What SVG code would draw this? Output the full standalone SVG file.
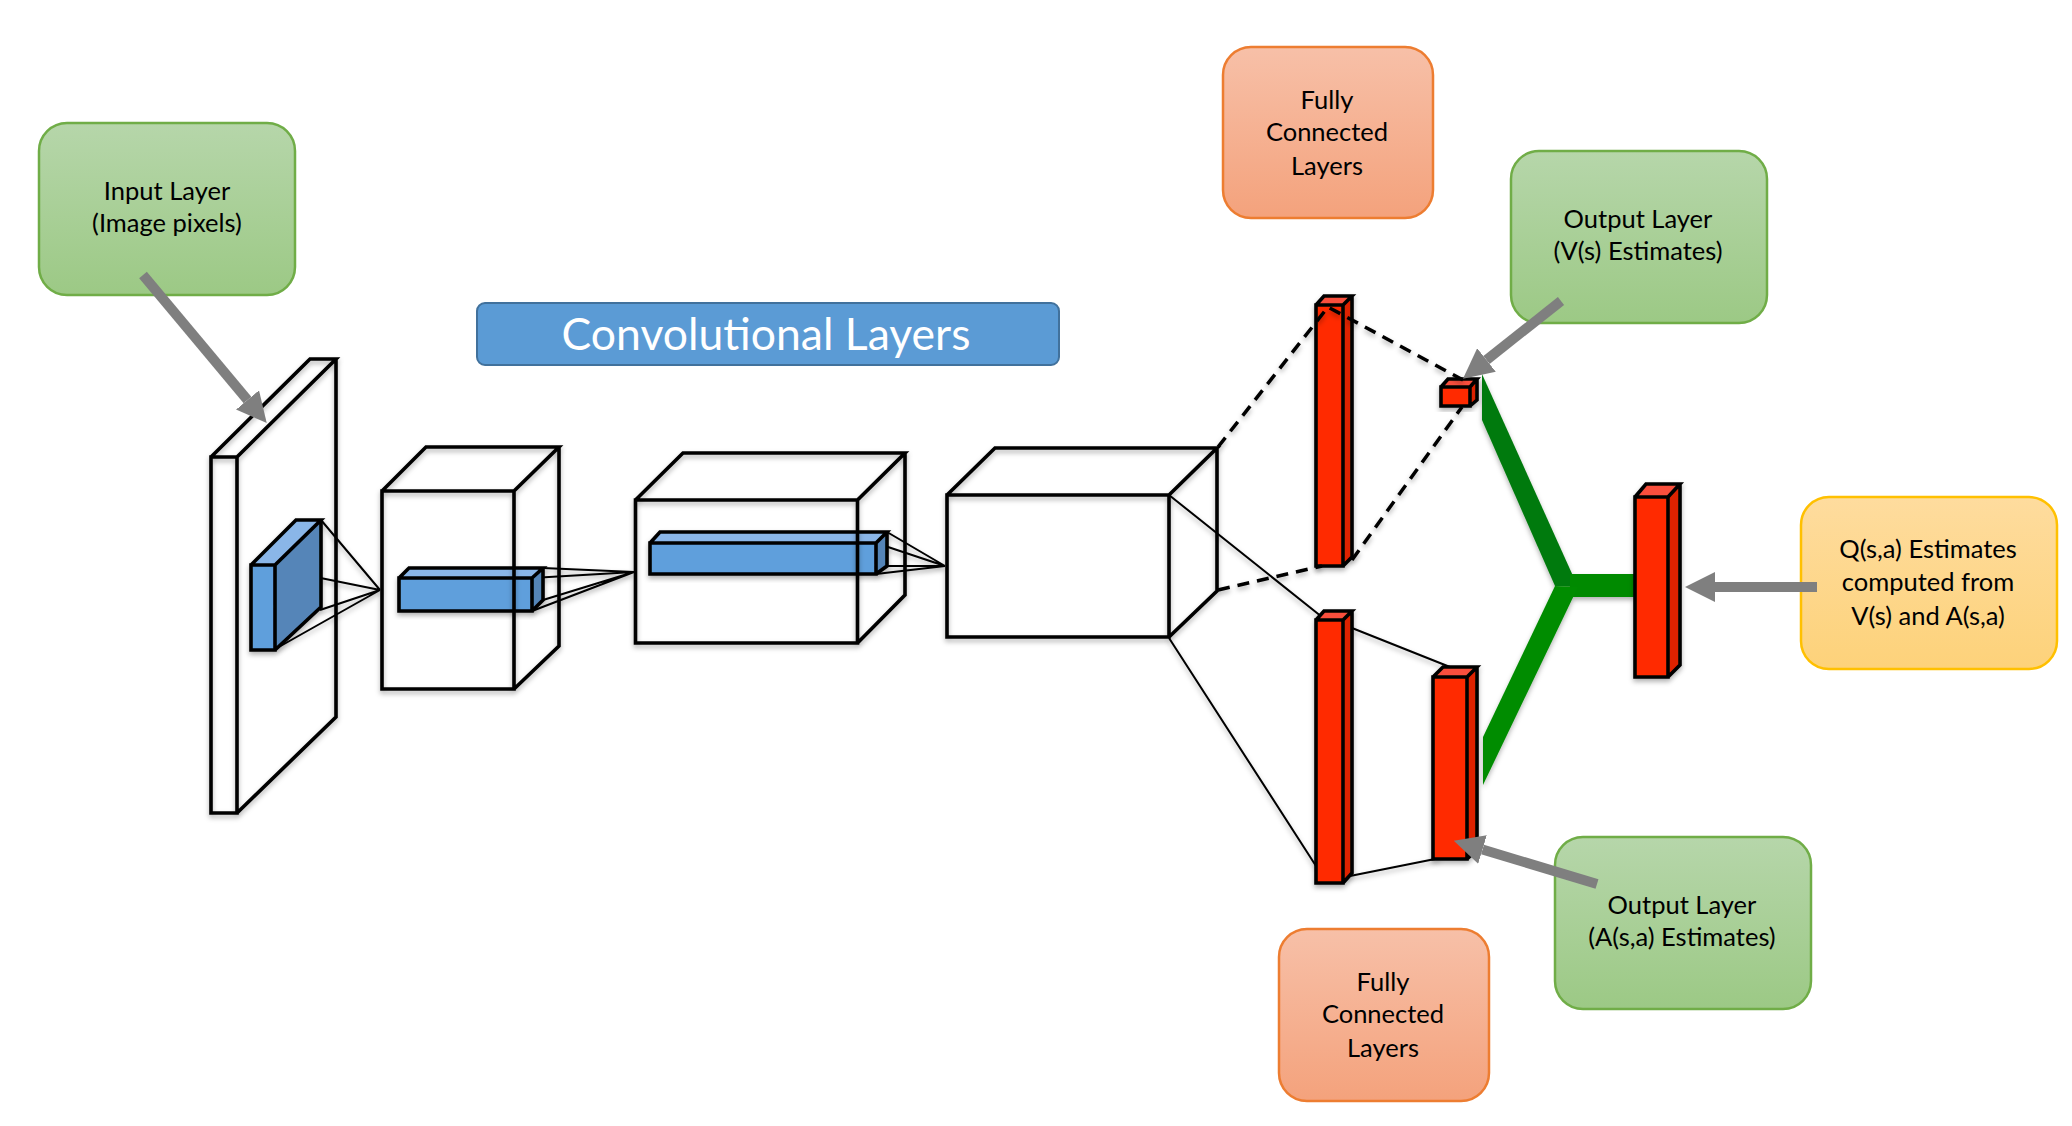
<svg xmlns="http://www.w3.org/2000/svg" width="2072" height="1126" viewBox="0 0 2072 1126">
<style>
text{font-family:Lato,"Liberation Sans",sans-serif;font-size:25.500px;fill:#000;text-anchor:middle}
.title{font-size:44.500px;fill:#fff}
.callout{stroke-width:2.500}
.green{fill:url(#gGreen);stroke:#70ad47}
.orange{fill:url(#gOrange);stroke:#ed7d31}
.yellow{fill:url(#gYellow);stroke:#ffc000}
.wire{fill:none;stroke:#000;stroke-width:3.600;stroke-linejoin:miter}
.thin{fill:none;stroke:#000;stroke-width:2}
.dash{fill:none;stroke:#000;stroke-width:3.500;stroke-dasharray:12 8}
.edge{stroke:#000;stroke-width:3.600;stroke-linejoin:miter}
.arrow{stroke:#7f7f7f;stroke-width:10;marker-end:url(#head)}
.bf{fill:#5f9fdc}.bt{fill:#8ab6e8}.br{fill:#5585b8}
.rf{fill:#ff2a00}.rt{fill:#f9503c}.rr{fill:#de2400}
</style>
<defs>
<linearGradient id="gGreen" x1="0" y1="0" x2="0" y2="1"><stop offset="0" stop-color="#b6d6aa"/><stop offset="1" stop-color="#9cc985"/></linearGradient>
<linearGradient id="gOrange" x1="0" y1="0" x2="0" y2="1"><stop offset="0" stop-color="#f7c0a8"/><stop offset="1" stop-color="#f4a27c"/></linearGradient>
<linearGradient id="gYellow" x1="0" y1="0" x2="0" y2="1"><stop offset="0" stop-color="#fedc9e"/><stop offset="1" stop-color="#fdd27a"/></linearGradient>
<filter id="sh" x="-20%" y="-20%" width="140%" height="140%"><feDropShadow dx="0" dy="3" stdDeviation="2.500" flood-color="#000" flood-opacity="0.3"/></filter>
<marker id="head" markerUnits="userSpaceOnUse" markerWidth="30" markerHeight="30" refX="0" refY="15" orient="auto"><path d="M0,0L30,15L0,30Z" fill="#7f7f7f"/></marker>
</defs>

<g id="callouts">
<g id="input-layer-label"><rect class="callout green" x="39" y="123" width="256" height="172" rx="28"/><text x="167" y="200">Input Layer</text><text x="167" y="232">(Image pixels)</text></g>
<g id="conv-label"><rect x="477" y="303" width="582" height="62" rx="8" fill="#5b9bd5" stroke="#41719c" stroke-width="2"/><text class="title" x="766" y="350">Convolutional Layers</text></g>
<g id="fc-top-label"><rect class="callout orange" x="1223" y="47" width="210" height="171" rx="28"/><text x="1327" y="109">Fully</text><text x="1327" y="141">Connected</text><text x="1327" y="175">Layers</text></g>
<g id="output-v-label"><rect class="callout green" x="1511" y="151" width="256" height="172" rx="28"/><text x="1638" y="228">Output Layer</text><text x="1638" y="260">(V(s) Estimates)</text></g>
<g id="q-label"><rect class="callout yellow" x="1801" y="497" width="256" height="172" rx="28"/><text x="1928" y="558">Q(s,a) Estimates</text><text x="1928" y="591">computed from</text><text x="1928" y="625">V(s) and A(s,a)</text></g>
<g id="output-a-label"><rect class="callout green" x="1555" y="837" width="256" height="172" rx="28"/><text x="1682" y="914">Output Layer</text><text x="1682" y="946">(A(s,a) Estimates)</text></g>
<g id="fc-bottom-label"><rect class="callout orange" x="1279" y="929" width="210" height="172" rx="28"/><text x="1383" y="991">Fully</text><text x="1383" y="1023">Connected</text><text x="1383" y="1057">Layers</text></g>
</g>

<g id="merge" filter="url(#sh)">
<polygon points="1482,374 1578,587 1555,586 1482,420" fill="#067a0c"/>
<rect x="1570" y="574" width="65" height="23" fill="#008a00"/>
<polygon points="1555,586 1578,587 1483,785 1483,737" fill="#058c03"/>
</g>

<g id="connectors">
<g filter="url(#sh)">
<path class="thin" d="M321,520L380,590M271,568L380,590M320,610L380,590M277,648L380,590"/>
<path class="thin" d="M543,568L634,572M532,578L634,572M543,600L634,572M532,611L634,572"/>
<path class="thin" d="M887,532L945,566M876,543L945,566M887,566L945,566M876,574L945,566"/>
<path class="thin" d="M1169,495L1322,617M1169,638L1316,866M1352,628L1450,667M1345,877L1440,858"/>
</g>
</g>

<g id="input-slab" filter="url(#sh)">
<path class="wire" d="M211,457H237V813H211ZM211,457L310,359H336L237,457M336,359V717L237,813"/>
</g>
<g id="kernel-1" filter="url(#sh)">
<polygon class="bf" points="251,565 275,565 275,650 251,650"/><polygon class="bt" points="251,565 296,520 321,520 275,565"/><polygon class="br" points="275,565 321,520 321,607 275,650"/>
<path class="edge" fill="none" d="M251,565H275V650H251ZM251,565L296,520H321L275,565M321,520V607L275,650"/>
</g>
<g id="kernel-2" filter="url(#sh)">
<polygon class="bf" points="399,578 532,578 532,611 399,611"/><polygon class="bt" points="399,578 409,568 543,568 532,578"/><polygon class="br" points="532,578 543,568 543,600 532,611"/>
<path class="edge" fill="none" d="M399,578H532V611H399ZM399,578L409,568H543L532,578M543,568V600L532,611"/>
</g>
<g id="volume-2" filter="url(#sh)">
<path class="wire" d="M382,491H514V689H382ZM382,491L426,447H559L514,491M559,447V646L514,689"/>
</g>
<g id="kernel-3" filter="url(#sh)">
<polygon class="bf" points="650,543 876,543 876,574 650,574"/><polygon class="bt" points="650,543 660,532 887,532 876,543"/><polygon class="br" points="876,543 887,532 887,566 876,574"/>
<path class="edge" fill="none" d="M650,543H876V574H650ZM650,543L660,532H887L876,543M887,532V566L876,574"/>
</g>
<g id="volume-3" filter="url(#sh)">
<path class="wire" d="M635.500,500H857.500V643H635.500ZM635.500,500L683,453H905L857.500,500M905,453V595L857.500,643"/>
</g>
<g id="volume-4" filter="url(#sh)">
<path class="wire" d="M947,495H1169V637H947ZM947,495L995,448H1217L1169,495M1217,448V591L1169,637"/>
</g>

<g id="fc-v-1" filter="url(#sh)">
<polygon class="rf" points="1316,305 1343,305 1343,566 1316,566"/><polygon class="rt" points="1316,305 1324,296 1352,296 1343,305"/><polygon class="rr" points="1343,305 1352,296 1352,557 1343,566"/>
<path class="edge" fill="none" d="M1316,305H1343V566H1316ZM1316,305L1324,296H1352L1343,305M1352,296V557L1343,566"/>
</g>
<g id="fc-v-2" filter="url(#sh)">
<polygon class="rf" points="1441,387 1470,387 1470,406 1441,406"/><polygon class="rt" points="1441,387 1448,379 1477,379 1470,387"/><polygon class="rr" points="1470,387 1477,379 1477,400 1470,406"/>
<path class="edge" fill="none" d="M1441,387H1470V406H1441ZM1441,387L1448,379H1477L1470,387M1477,379V400L1470,406"/>
</g>
<g id="fc-a-1" filter="url(#sh)">
<polygon class="rf" points="1316,620 1343,620 1343,883 1316,883"/><polygon class="rt" points="1316,620 1324,611 1352,611 1343,620"/><polygon class="rr" points="1343,620 1352,611 1352,873 1343,883"/>
<path class="edge" fill="none" d="M1316,620H1343V883H1316ZM1316,620L1324,611H1352L1343,620M1352,611V873L1343,883"/>
</g>
<g id="fc-a-2" filter="url(#sh)">
<polygon class="rf" points="1433,677 1467,677 1467,859 1433,859"/><polygon class="rt" points="1433,677 1443,667 1477,667 1467,677"/><polygon class="rr" points="1467,677 1477,667 1477,850 1467,859"/>
<path class="edge" fill="none" d="M1433,677H1467V859H1433ZM1433,677L1443,667H1477L1467,677M1477,667V850L1467,859"/>
</g>
<g id="q-output" filter="url(#sh)">
<polygon class="rf" points="1635,497 1668,497 1668,677 1635,677"/><polygon class="rt" points="1635,497 1646,484 1680,484 1668,497"/><polygon class="rr" points="1668,497 1680,484 1680,665 1668,677"/>
<path class="edge" fill="none" d="M1635,497H1668V677H1635ZM1635,497L1646,484H1680L1668,497M1680,484V665L1668,677"/>
</g>

<g id="dashed-connectors" filter="url(#sh)">
<path class="dash" d="M1218,447L1328,307L1463,380"/>
<path class="dash" d="M1218,590L1322,566"/>
<path class="dash" d="M1352,560L1462,407"/>
</g>

<g id="callout-arrows">
<line class="arrow" x1="143" y1="275" x2="247.500" y2="400"/>
<line class="arrow" x1="1561" y1="301" x2="1486.500" y2="360"/>
<line class="arrow" x1="1597" y1="884" x2="1482.500" y2="849.500"/>
<line class="arrow" x1="1817" y1="587" x2="1715" y2="587"/>
</g>
</svg>
